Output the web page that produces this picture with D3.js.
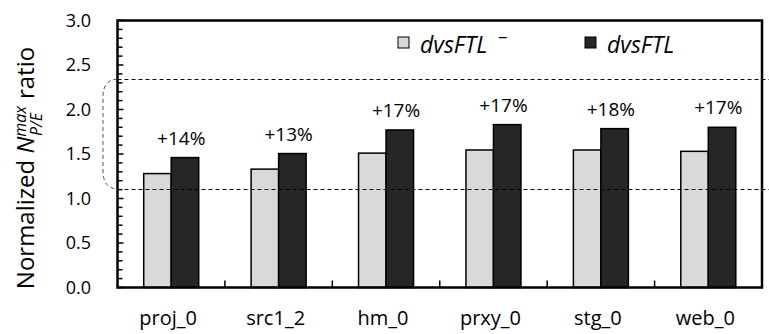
<!DOCTYPE html>
<html>
<head>
<meta charset="utf-8">
<script src="https://cdn.jsdelivr.net/npm/d3@7"></script>
<style>
  body { margin: 0; background: #fff; }
  svg text { font-family: "Open Sans", sans-serif; fill: #000; }
</style>
</head>
<body>
<svg id="chart" width="769" height="334"></svg>
<script>
// data
var categories = ['proj_0', 'src1_2', 'hm_0', 'prxy_0', 'stg_0', 'web_0']
var seriesNames = ['base', 'dvs']
var baseValues = [1.28, 1.33, 1.51, 1.545, 1.545, 1.53]
var dvsValues = [1.46, 1.505, 1.77, 1.83, 1.785, 1.80]
var gainLabels = ['+14%', '+13%', '+17%', '+17%', '+18%', '+17%']
var yTicks = [0, 0.5, 1.0, 1.5, 2.0, 2.5, 3.0]
var bandLines = [1.11, 2.34]

var svg = d3.select('#chart')
var pLeft = 117.5, pRight = 762, pTop = 20.5, pBottom = 287.5

var y = d3.scaleLinear().domain([0, 3]).range([pBottom, pTop])
var x0 = d3.scaleBand().domain(categories).range([pLeft, pRight])
var pairW = 55
var x1 = d3.scaleBand().domain(seriesNames).range([0, pairW])
var color = d3.scaleOrdinal().domain(seriesNames).range(['#d9d9d9', '#262626'])

var rows = categories.map(function (c, i) {
  return { cat: c, base: baseValues[i], dvs: dvsValues[i], gain: gainLabels[i] }
})

// bars
var g = svg.append('g')
g.selectAll('g.grp')
  .data(rows)
  .join('g')
  .attr('class', 'grp')
  .attr('transform', d => 'translate(' + (x0(d.cat) + (x0.bandwidth() - pairW) / 2) + ',0)')
  .selectAll('rect')
  .data(d => seriesNames.map(k => ({ key: k, value: d[k] })))
  .join('rect')
  .attr('x', d => x1(d.key))
  .attr('width', x1.bandwidth())
  .attr('y', d => y(d.value))
  .attr('height', d => y(0) - y(d.value))
  .attr('fill', d => color(d.key))
  .attr('stroke', '#000')
  .attr('stroke-width', 1.5)

// gain labels
svg.selectAll('text.gain')
  .data(rows)
  .join('text')
  .attr('class', 'gain')
  .attr('x', d => x0(d.cat) + x0.bandwidth() / 2 + 10)
  .attr('y', d => y(d.dvs) - 13)
  .attr('text-anchor', 'middle')
  .style('font-size', '19px')
  .text(d => d.gain)

// dashed reference lines
svg.selectAll('line.band')
  .data(bandLines)
  .join('line')
  .attr('x1', pLeft)
  .attr('x2', 769)
  .attr('y1', d => Math.round(y(d)) + 0.5)
  .attr('y2', d => Math.round(y(d)) + 0.5)
  .attr('stroke', '#000')
  .attr('stroke-width', 1)
  .attr('stroke-dasharray', '4,3')

// dashed bracket on the left
var yt = y(bandLines[1]), yb = y(bandLines[0]), bx = 103
svg.append('path')
  .attr('d', 'M' + pLeft + ',' + yt + ' Q' + bx + ',' + yt + ' ' + bx + ',' + (yt + 18) +
    ' L' + bx + ',' + (yb - 18) + ' Q' + bx + ',' + yb + ' ' + pLeft + ',' + yb)
  .attr('fill', 'none')
  .attr('stroke', '#555')
  .attr('stroke-width', 1)
  .attr('stroke-dasharray', '4,3')

// y ticks inside (every 0.1)
var minor = d3.range(0, 31).map(i => i / 10)
svg.selectAll('line.ytick')
  .data(minor)
  .join('line')
  .attr('x1', pLeft)
  .attr('x2', (d, i) => pLeft + (i % 5 === 0 ? 6 : 5))
  .attr('y1', d => y(d))
  .attr('y2', d => y(d))
  .attr('stroke', '#000')
  .attr('stroke-width', 1.5)

svg.selectAll('text.ylab')
  .data(yTicks)
  .join('text')
  .attr('class', 'ylab')
  .attr('x', 91)
  .attr('y', d => y(d))
  .attr('dy', '0.35em')
  .attr('text-anchor', 'end')
  .style('font-size', '18px')
  .text(d => d.toFixed(1))

// x ticks between groups
svg.selectAll('line.xtick')
  .data(categories.slice(1))
  .join('line')
  .attr('x1', d => x0(d))
  .attr('x2', d => x0(d))
  .attr('y1', pBottom)
  .attr('y2', pBottom - 7)
  .attr('stroke', '#000')
  .attr('stroke-width', 1.5)

svg.selectAll('text.xlab')
  .data(categories)
  .join('text')
  .attr('class', 'xlab')
  .attr('x', d => x0(d) + x0.bandwidth() / 2 - 3)
  .attr('y', 325)
  .attr('text-anchor', 'middle')
  .style('font-size', '20px')
  .text(d => d)

// frame
svg.append('rect')
  .attr('x', pLeft)
  .attr('y', pTop)
  .attr('width', pRight - pLeft)
  .attr('height', pBottom - pTop)
  .attr('fill', 'none')
  .attr('stroke', '#000')
  .attr('stroke-width', 2.5)

// legend
var legend = [
  { key: 'base', x: 398, bar: true },
  { key: 'dvs', x: 585, bar: false }
]
legend.forEach(function (l) {
  svg.append('rect')
    .attr('x', l.x).attr('y', 37).attr('width', 11).attr('height', 11)
    .attr('fill', color(l.key)).attr('stroke', '#000').attr('stroke-width', 1)
  svg.append('text')
    .attr('x', l.x + 22).attr('y', 53)
    .style('font-size', '23px').style('font-style', 'italic')
    .text('dvsFTL')
  if (l.bar) {
    svg.append('text')
      .attr('x', l.x + 100).attr('y', 43)
      .style('font-size', '19px')
      .text('\u2013')
  }
})

// y axis title
var title = svg.append('text')
  .attr('transform', 'translate(34,168) rotate(-90)')
  .attr('text-anchor', 'middle')
  .style('font-size', '24px')
title.append('tspan').text('Normalized ')
title.append('tspan').style('font-style', 'italic').text('N')
title.append('tspan').attr('dy', -8).style('font-size', '16px').style('font-style', 'italic').text('max')
title.append('tspan').attr('dx', -30).attr('dy', 16).style('font-size', '16px').style('font-style', 'italic').text('P/E')
title.append('tspan').attr('dx', 14).attr('dy', -8).text('ratio')
</script>
</body>
</html>
